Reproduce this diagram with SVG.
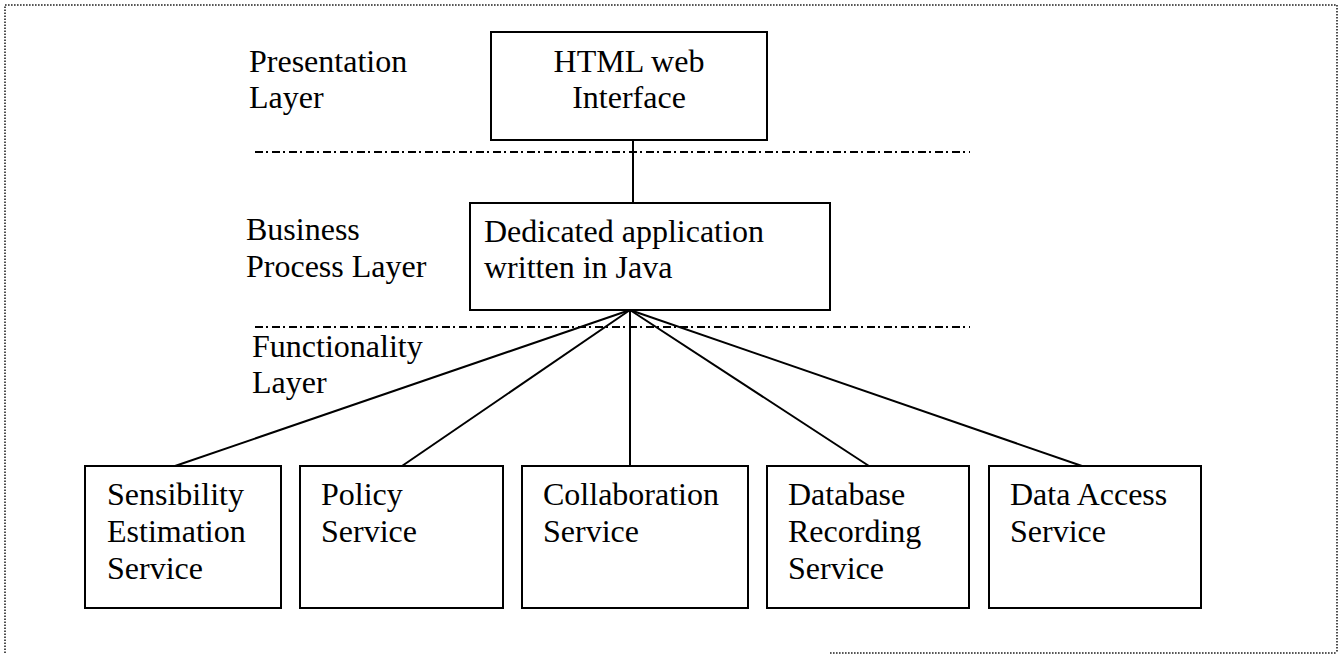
<svg xmlns="http://www.w3.org/2000/svg" width="1340" height="656" viewBox="0 0 1340 656">
  <style>
    .box { fill: #fff; stroke: #000; stroke-width: 2; }
    .lbl { font-family: "Liberation Serif", "Times New Roman", serif; font-size: 32px; fill: #000; }
    .mid { text-anchor: middle; }
    .link { stroke: #000; stroke-width: 2; fill: none; }
    .sep { stroke: #000; stroke-width: 2.2; stroke-dasharray: 8 3 2 4; fill: none; }
    .frame { stroke: #222; stroke-width: 1.6; stroke-dasharray: 1.6 1.4; fill: none; }
  </style>

  <rect width="1340" height="656" fill="#fff"/>

  <!-- dotted frame: left, top and right sides, with a faint stretch along the bottom -->
  <g id="frame">
    <path class="frame" d="M5 653 V5 H1337 V653"/>
    <path class="frame" d="M830 653 H1337" stroke="#999"/>
  </g>

  <!-- layer separators -->
  <g id="separators">
    <line class="sep" x1="255" y1="152" x2="970" y2="152"/>
    <line class="sep" x1="255" y1="327" x2="970" y2="327"/>
  </g>

  <!-- layer names -->
  <g id="layer-labels">
    <text class="lbl" x="249" y="72">Presentation</text>
    <text class="lbl" x="249" y="108">Layer</text>
    <text class="lbl" x="246" y="240">Business</text>
    <text class="lbl" x="246" y="277">Process Layer</text>
    <text class="lbl" x="252" y="357">Functionality</text>
    <text class="lbl" x="252" y="393">Layer</text>
  </g>

  <!-- connectors -->
  <g id="connectors">
    <line class="link" x1="633" y1="140" x2="633" y2="203"/>
    <line class="link" x1="630" y1="310" x2="175" y2="466"/>
    <line class="link" x1="630" y1="310" x2="402" y2="466"/>
    <line class="link" x1="630" y1="310" x2="630" y2="466"/>
    <line class="link" x1="630" y1="310" x2="869" y2="466"/>
    <line class="link" x1="630" y1="310" x2="1082" y2="466"/>
  </g>

  <g id="html-ui">
    <rect class="box" x="491" y="32" width="276" height="108"/>
    <text class="lbl mid" x="629" y="72">HTML web</text>
    <text class="lbl mid" x="629" y="108">Interface</text>
  </g>

  <g id="java-app">
    <rect class="box" x="470" y="203" width="360" height="107"/>
    <text class="lbl" x="484" y="242">Dedicated application</text>
    <text class="lbl" x="484" y="278">written in Java</text>
  </g>

  <g id="sensibility">
    <rect class="box" x="85" y="466" width="196" height="142"/>
    <text class="lbl" x="107" y="505">Sensibility</text>
    <text class="lbl" x="107" y="542">Estimation</text>
    <text class="lbl" x="107" y="579">Service</text>
  </g>

  <g id="policy">
    <rect class="box" x="300" y="466" width="203" height="142"/>
    <text class="lbl" x="321" y="505">Policy</text>
    <text class="lbl" x="321" y="542">Service</text>
  </g>

  <g id="collaboration">
    <rect class="box" x="522" y="466" width="226" height="142"/>
    <text class="lbl" x="543" y="505">Collaboration</text>
    <text class="lbl" x="543" y="542">Service</text>
  </g>

  <g id="db-recording">
    <rect class="box" x="767" y="466" width="202" height="142"/>
    <text class="lbl" x="788" y="505">Database</text>
    <text class="lbl" x="788" y="542">Recording</text>
    <text class="lbl" x="788" y="579">Service</text>
  </g>

  <g id="data-access">
    <rect class="box" x="989" y="466" width="212" height="142"/>
    <text class="lbl" x="1010" y="505">Data Access</text>
    <text class="lbl" x="1010" y="542">Service</text>
  </g>
</svg>
